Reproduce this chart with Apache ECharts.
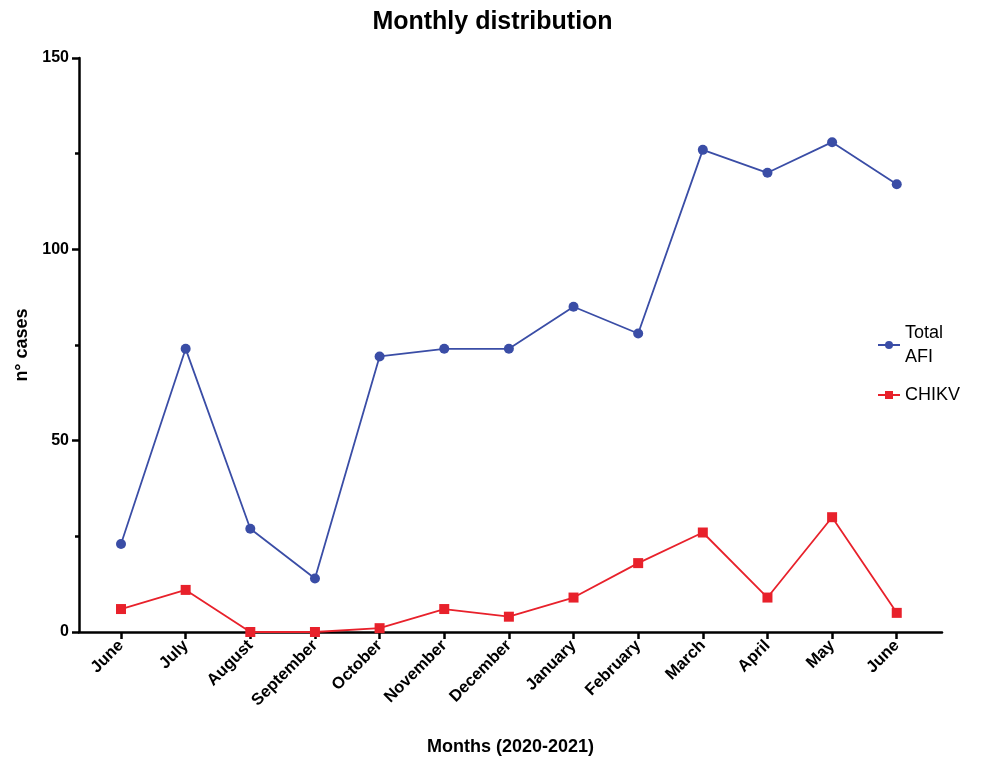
<!DOCTYPE html>
<html><head><meta charset="utf-8">
<script src="https://cdn.jsdelivr.net/npm/echarts@6/dist/echarts.min.js"></script>
<style>html,body{margin:0;padding:0;background:#fff}#c{width:985px;height:761px}</style>
</head><body><div id="c"></div>
<script>
var months = ['June','July','August','September','October','November','December','January','February','March','April','May','June'];
var totalAFI = [23,74,27,14,72,74,74,85,78,126,120,128,117];
var chikv = [6,11,0,0,1,6,4,9,18,26,9,30,5];
var yTicks = [0,50,100,150];

var FONT = 'Liberation Sans, Arial, sans-serif';
var BLUE = '#3A4DA6', RED = '#E8212B';
function pairs(arr){ return arr.map(function(v,i){ return [i,v]; }); }
var idx = months.map(function(_,i){ return i; });

var chart = echarts.init(document.getElementById('c'));
chart.setOption({
  animation:false,
  backgroundColor:'#fff',
  title:{text:'Monthly distribution',left:'center',top:5,
    textStyle:{fontFamily:FONT,fontWeight:'bold',fontSize:25,color:'#000'}},
  grid:{left:79,right:43,top:58,bottom:129},
  legend:{orient:'vertical',left:872,top:316,itemWidth:22,itemHeight:10,itemGap:14,
    textStyle:{fontFamily:FONT,fontSize:18,color:'#000',lineHeight:24},
    data:['Total\nAFI','CHIKV']},
  xAxis:{type:'value',min:-0.65,max:12.7,
    name:'Months (2020-2021)',nameLocation:'middle',nameGap:106,
    nameTextStyle:{fontFamily:FONT,fontWeight:'bold',fontSize:18,color:'#000'},
    splitLine:{show:false},
    axisLine:{show:true,onZero:false,lineStyle:{color:'#000',width:2.5}},
    axisTick:{show:true,customValues:idx,length:7,lineStyle:{color:'#000',width:2.5}},
    axisLabel:{customValues:idx,rotate:45,margin:11,formatter:function(v){return months[Math.round(v)];},
      fontFamily:FONT,fontWeight:'bold',fontSize:16.5,color:'#000'}},
  yAxis:{type:'value',min:0,max:150,interval:50,
    name:'n° cases',nameLocation:'middle',nameGap:47,
    nameTextStyle:{fontFamily:FONT,fontWeight:'bold',fontSize:18,color:'#000'},
    splitLine:{show:false},
    axisLine:{show:true,onZero:false,lineStyle:{color:'#000',width:2.5}},
    axisTick:{show:true,length:7,lineStyle:{color:'#000',width:2.5}},
    minorTick:{show:true,splitNumber:2,length:4,lineStyle:{color:'#000',width:2.5}},
    axisLabel:{margin:10,fontFamily:FONT,fontWeight:'bold',fontSize:16,color:'#000',
      formatter:function(v){return yTicks.indexOf(v)>=0?String(v):'';}}},
  series:[
    {name:'Total\nAFI',type:'line',data:pairs(totalAFI),symbol:'circle',symbolSize:10,
      lineStyle:{color:BLUE,width:1.8},itemStyle:{color:BLUE},z:3},
    {name:'CHIKV',type:'line',data:pairs(chikv),symbol:'rect',symbolSize:10,
      lineStyle:{color:RED,width:1.8},itemStyle:{color:RED},z:4}
  ]
});
</script></body></html>
